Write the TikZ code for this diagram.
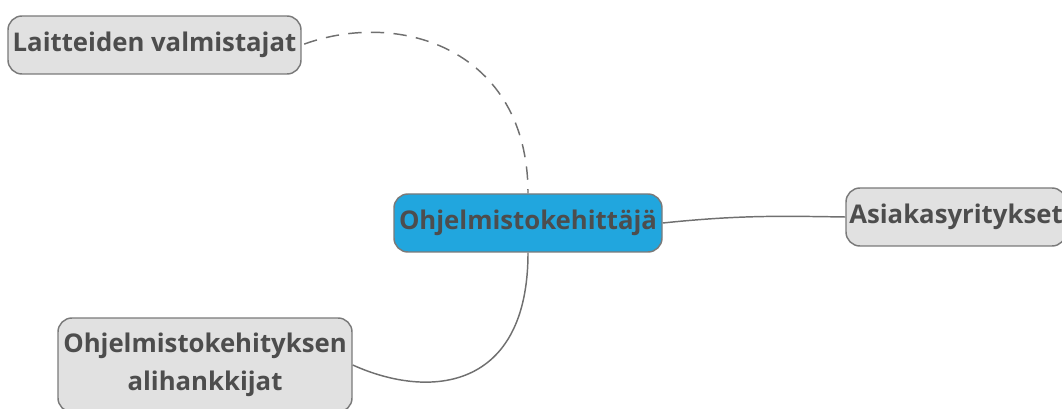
\documentclass[tikz,border=0pt]{standalone}
\usepackage{fontspec}
\setmainfont{Open Sans}
\begin{document}
\begin{tikzpicture}[x=0.75pt,y=-0.75pt,
  every node/.style={font=\bfseries\fontsize{19.3pt}{28.5pt}\selectfont, text=txtgray, inner sep=0pt, align=center},
  topic/.style={draw=boxline, line width=1.1pt, rounded corners=10.5pt, fill=boxfill, minimum height=43.5pt},
  conn/.style={draw=linegray, line width=1.1pt}]
\definecolor{txtgray}{HTML}{4D4D4D}
\definecolor{boxline}{HTML}{7A7A7A}
\definecolor{boxfill}{HTML}{E1E1E1}
\definecolor{centerfill}{HTML}{21A6DE}
\definecolor{linegray}{HTML}{707070}
\useasboundingbox (0,0) rectangle (1062,409);
\clip (0,0) rectangle (1062,409);
\node[topic, minimum width=219.75pt] (lait) at (154.5,45) {Laitteiden valmistajat};
\node[topic, fill=centerfill, minimum width=201pt] (main) at (528,223) {Ohjelmistokehittäjä};
\node[topic, minimum width=165pt] (asia) at (956,217) {Asiakasyritykset};
\node[topic, minimum width=220.5pt, minimum height=70.5pt] (alih) at (205,365) {Ohjelmistokehityksen\\alihankkijat};
\draw[conn, dash pattern=on 10pt off 7pt, dash phase=-2pt] (lait.east) .. controls (400,8) and (528,50) .. (main.north);
\draw[conn] (main.east) .. controls (740,215) and (780,216) .. (asia.west);
\draw[conn] (main.south) .. controls (528,390) and (430,400) .. (alih.east);
\end{tikzpicture}
\end{document}
